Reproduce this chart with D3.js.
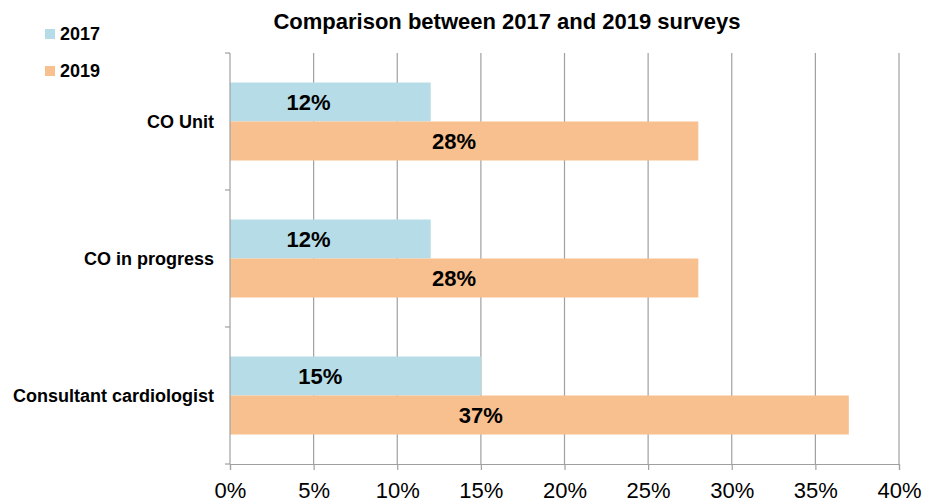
<!DOCTYPE html>
<html>
<head>
<meta charset="utf-8">
<script src="https://cdn.jsdelivr.net/npm/d3@7"></script>
<style>
  body { margin: 0; background: #fff; }
  svg { font-family: Arial, "Liberation Sans", sans-serif; }
</style>
</head>
<body>
<div id="viz"></div>
<script>
// data
const categories = ["CO Unit", "CO in progress", "Consultant cardiologist"];
const years = ["2017", "2019"];
const values2017 = [12, 12, 15];
const values2019 = [28, 28, 37];
// where each value label sits (in % units along the axis)
const labelAt2017 = [4.7, 4.7, 5.4];
const labelAt2019 = [13.4, 13.4, 15];
const xTicks = [0, 5, 10, 15, 20, 25, 30, 35, 40];

const width = 936;
const height = 503;
const colors = {"2017": "#b6dde7", "2019": "#f9c08f"};
const gridColor = "#a0a0a0";

const svg = d3.select("#viz")
  .append("svg")
  .attr("width", width)
  .attr("height", height);

const x = d3.scaleLinear().domain([0, 40]).range([230, 899]);
const y = d3.scaleBand().domain(categories).range([53, 464]).padding(0);
const barH = 39;

// gridlines
svg.append("g")
  .selectAll("line")
  .data(xTicks.slice(1))
  .enter()
  .append("line")
  .attr("x1", d => x(d)).attr("x2", d => x(d))
  .attr("y1", 53).attr("y2", 464)
  .attr("stroke", gridColor)
  .attr("stroke-width", 1.2);

// bars
const rows = categories.map((c, i) => ({cat: c, v17: values2017[i], v19: values2019[i], l17: labelAt2017[i], l19: labelAt2019[i]}));

const groups = svg.append("g")
  .selectAll("g")
  .data(rows)
  .enter()
  .append("g")
  .attr("transform", d => "translate(0," + (y(d.cat) + y.bandwidth() / 2) + ")");

groups.append("rect")
  .attr("x", x(0))
  .attr("y", -barH)
  .attr("width", d => x(d.v17) - x(0))
  .attr("height", barH)
  .attr("fill", colors["2017"]);

groups.append("rect")
  .attr("x", x(0))
  .attr("y", 0)
  .attr("width", d => x(d.v19) - x(0))
  .attr("height", barH)
  .attr("fill", colors["2019"]);

groups.append("text")
  .attr("x", d => x(d.l17))
  .attr("y", -barH / 2)
  .attr("dy", "0.36em")
  .attr("text-anchor", "middle")
  .style("font-size", "22px")
  .style("font-weight", "bold")
  .text(d => d.v17 + "%");

groups.append("text")
  .attr("x", d => x(d.l19))
  .attr("y", barH / 2)
  .attr("dy", "0.36em")
  .attr("text-anchor", "middle")
  .style("font-size", "22px")
  .style("font-weight", "bold")
  .text(d => d.v19 + "%");

// y axis line + ticks at band edges
const yEdges = categories.map(c => y(c)).concat([y.range()[1]]);
svg.append("line")
  .attr("x1", x(0)).attr("x2", x(0))
  .attr("y1", 53).attr("y2", 464)
  .attr("stroke", gridColor)
  .attr("stroke-width", 1.2);
svg.append("g")
  .selectAll("line")
  .data(yEdges)
  .enter()
  .append("line")
  .attr("x1", x(0) - 5).attr("x2", x(0))
  .attr("y1", d => d).attr("y2", d => d)
  .attr("stroke", gridColor)
  .attr("stroke-width", 1.2);

svg.append("g")
  .selectAll("text")
  .data(categories)
  .enter()
  .append("text")
  .attr("x", 214)
  .attr("y", d => y(d) + y.bandwidth() / 2)
  .attr("dy", "0.36em")
  .attr("text-anchor", "end")
  .style("font-size", "18px")
  .style("font-weight", "bold")
  .text(d => d);

// x axis
const xAxis = svg.append("g")
  .attr("transform", "translate(0,464)")
  .call(d3.axisBottom(x).tickValues(xTicks).tickFormat(d => d + "%").tickSize(6).tickPadding(12));
xAxis.select(".domain").attr("stroke", gridColor).attr("stroke-width", 1.2);
xAxis.selectAll(".tick line").attr("stroke", gridColor).attr("stroke-width", 1.2);
xAxis.selectAll(".tick text")
  .attr("fill", "#000")
  .style("font-size", "22px")
  .style("font-family", "Arial, 'Liberation Sans', sans-serif");

// title
svg.append("text")
  .attr("x", 507)
  .attr("y", 29)
  .attr("text-anchor", "middle")
  .style("font-size", "22px")
  .style("font-weight", "bold")
  .text("Comparison between 2017 and 2019 surveys");

// legend
const legend = svg.append("g")
  .selectAll("g")
  .data(years)
  .enter()
  .append("g")
  .attr("transform", (d, i) => "translate(45," + (29 + i * 37) + ")");
legend.append("rect")
  .attr("width", 10).attr("height", 10)
  .attr("fill", d => colors[d]);
legend.append("text")
  .attr("x", 15)
  .attr("y", 5)
  .attr("dy", "0.36em")
  .style("font-size", "18px")
  .style("font-weight", "bold")
  .text(d => d);
</script>
</body>
</html>
